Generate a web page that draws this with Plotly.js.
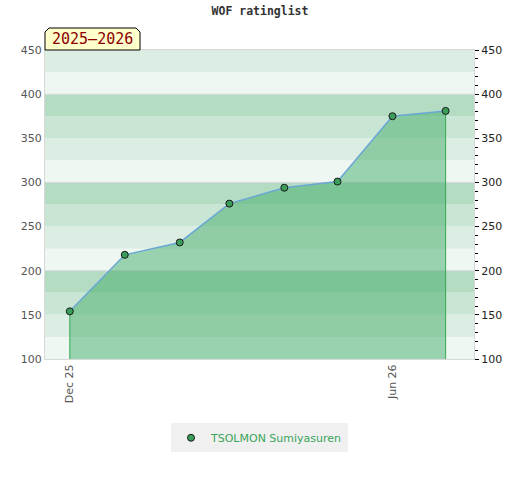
<!DOCTYPE html>
<html>
<head>
<meta charset="utf-8">
<script src="https://cdn.plot.ly/plotly-3.0.1.min.js"></script>
<style>html,body{margin:0;padding:0;background:#fff}#chart{width:520px;height:480px}</style>
</head>
<body>
<div id="chart"></div>
<script>
var dates = ['2025-12-01','2026-01-01','2026-02-01','2026-03-01','2026-04-01','2026-05-01','2026-06-01','2026-07-01'];
var ratings = [154, 218, 232, 276, 294, 301, 375, 381];
var playerName = 'TSOLMON Sumiyasuren';
var chartTitle = 'WOF ratinglist';
var seasonLabel = '2025\u20132026';
var yMin = 100, yMax = 450;

var bandColors = ['#eef7f1', '#dcede3', '#c9e6d4', '#b3dcc2'];
var shapes = [];
for (var v = yMin; v < yMax; v += 25) {
  var idx = ((v - yMin) / 25) % 4;
  shapes.push({type:'rect', xref:'paper', yref:'y', x0:0, x1:1, y0:v, y1:v+25,
    fillcolor: bandColors[idx], line:{width:0}, layer:'below'});
}
for (var g = yMin + 100; g < yMax; g += 100) {
  shapes.push({type:'line', xref:'paper', yref:'y', x0:0, x1:1, y0:g, y1:g,
    line:{color:'#d8d8d8', width:1}, layer:'below'});
}
shapes.push({type:'path', xref:'paper', yref:'paper', xsizemode:'pixel', ysizemode:'pixel',
  xanchor:0, yanchor:1, path:'M0,0 L0,18 L4,22 L91,22 L95,18 L95,0 Z',
  fillcolor:'#ffffcc', line:{color:'#000', width:1}, layer:'above'});

var n = dates.length;
var fillTrace = {x: dates, y: ratings, type:'scatter', mode:'lines', fill:'tozeroy',
  fillcolor:'rgba(60,170,100,0.48)', line:{color:'rgba(0,0,0,0)', width:0},
  showlegend:false, hoverinfo:'skip'};
var edgeTrace = {x:[dates[0], dates[0], null, dates[n-1], dates[n-1]],
  y:[yMin, ratings[0], null, yMin, ratings[n-1]], type:'scatter', mode:'lines',
  line:{color:'#34a853', width:1}, showlegend:false, hoverinfo:'skip', connectgaps:false};
var lineTrace = {x: dates, y: ratings, type:'scatter', mode:'lines',
  line:{color:'#6aa6d6', width:1.5}, showlegend:false, hoverinfo:'skip'};
var markerTrace = {x: dates, y: ratings, type:'scatter', mode:'markers', name: playerName,
  marker:{color:'#3a9d5a', size:7, line:{color:'#1a1a1a', width:1}}};
var axis2Trace = {x:[dates[0]], y:[ratings[0]], yaxis:'y2', type:'scatter', mode:'markers',
  marker:{opacity:0}, showlegend:false, hoverinfo:'skip'};

var layout = {
  width:520, height:480,
  margin:{l:45, r:46, t:50, b:121},
  paper_bgcolor:'#fff', plot_bgcolor:'#fff',
  title:{text:chartTitle, x:0.5, xanchor:'center', y:0.985, yanchor:'top',
    font:{family:'DejaVu Sans Mono', size:11.5, color:'#333', weight:'bold'}},
  showlegend:true,
  legend:{orientation:'h', x:0.5, xanchor:'center', y:-0.208, yanchor:'top',
    bgcolor:'#f0f0f0', font:{family:'DejaVu Sans', size:11, color:'#3aa55a'},
    itemwidth:30},
  xaxis:{type:'date', range:['2025-11-17','2026-07-17'], tick0:'2025-12-01', dtick:'M6',
    tickformat:'%b %y', tickangle:-90, showgrid:false, zeroline:false,
    showline:true, linecolor:'#d8d8d8', mirror:true, ticks:'',
    tickfont:{family:'DejaVu Sans', size:11, color:'#555'}},
  yaxis:{range:[yMin, yMax], dtick:50, showgrid:false, zeroline:false,
    showline:true, linecolor:'#d8d8d8', mirror:true, ticks:'',
    tickfont:{family:'DejaVu Sans', size:11, color:'#555'}},
  yaxis2:{range:[yMin, yMax], dtick:50, overlaying:'y', side:'right', showgrid:false,
    zeroline:false, showline:false, ticks:'outside', ticklen:4, tickcolor:'#000',
    minor:{dtick:10, ticks:'outside', ticklen:3, tickcolor:'#000'},
    tickfont:{family:'DejaVu Sans', size:11, color:'#222'}},
  shapes: shapes,
  annotations:[{xref:'paper', yref:'paper', x:0.111, y:1.036, xanchor:'center', yanchor:'middle',
    text:seasonLabel, showarrow:false,
    font:{family:'DejaVu Sans Mono', size:15, color:'#8b0000'}}]
};

Plotly.newPlot('chart', [fillTrace, edgeTrace, lineTrace, markerTrace, axis2Trace], layout,
  {displayModeBar:false, staticPlot:true});
</script>
</body>
</html>
